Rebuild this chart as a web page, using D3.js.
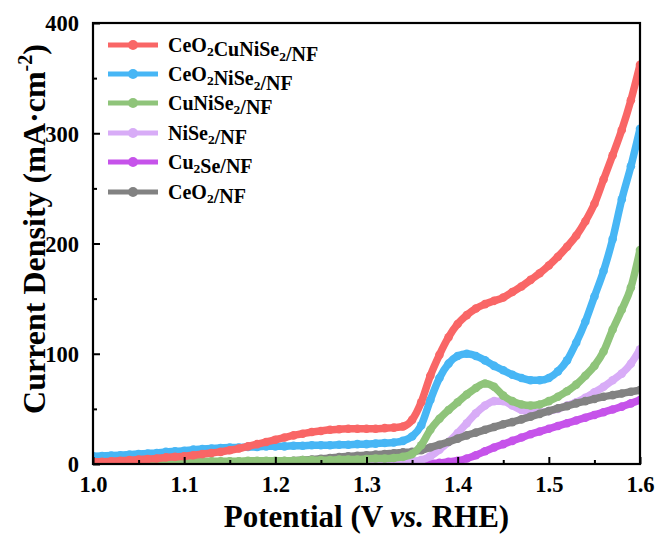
<!DOCTYPE html>
<html><head><meta charset="utf-8">
<script src="https://cdn.jsdelivr.net/npm/d3@7/dist/d3.min.js"></script>
<style>body{margin:0;background:#fff}svg{display:block}text{font-family:"Liberation Serif","Times New Roman",serif;font-weight:bold;fill:#000}</style>
</head><body><svg id="c" width="662" height="535"></svg>
<script>
const potential = d3.range(61).map(i => +(1 + i * 0.01).toFixed(2));
const xTicks = [1.0, 1.1, 1.2, 1.3, 1.4, 1.5, 1.6];
const yTicks = [0, 100, 200, 300, 400];

const red = [2,2,2.5,3,3.5,4,4.5,5,6,6.5,7,8,9,10,11,12.5,14,16,18,20,22,24,26,27.5,29,30,31,31.5,32,32,32,32,32.5,33,34,40,56,80,99,115,127,135,141,145,148,151,156,161,167,173,180,188,197,207,220,236,258,280,303,330,362];
const blue = [7,7.3,7.6,8,8.5,9,9.5,10,11,11.5,12,13,13.5,14,14.5,15,15,15.5,15.5,16,16,16,16.5,16.5,17,17,17,17.5,17.5,18,18,18.5,19,19.5,21,25,35,58,78,91,98,100,98,94,89,85,81,78,76,76,78,84,94,110,129,152,175,204,240,270,304];
const green = [2,2,2,2,2,2,2,2,2,2,2.5,2.5,2.5,2.5,2.5,2.5,2.5,3,3,3,3,3,3,3.5,3.5,3.5,3.5,4,4,4,4.5,5,5,5.5,6.5,9,17,31,41,49,56,63,69,73,70,62,57,54,53,54,57,61,66,72,80,89,102,122,140,160,194];
const lavender = [2,2,2,2,2,2,2,2,2,2,2,2,2,2,2,2,2,2,2,2,2,2,2,2,2,2,2,2,2,2,2,2,2,2,2,2.5,3.5,7,13,20,28,37,46,53,57,57,53,49,47,47,48,50,53,56,60,65,70,76,82,91,104];
const purple = [0,0,0,0,0,0,0,0,0,0,0,0,0,0,0,0,0,0,0,0,0,0,0,0,0,0,0,0,0,0,0,0,0,0,0,0,0,0.5,1,2,3,5,8,11.5,15,18,21,24,27,29.5,32,34.5,37,39.5,42,44.5,47,49.5,52,55,58];
const gray = [1,1,1,1,1,1,1.2,1.2,1.3,1.4,1.5,1.5,1.6,1.7,1.8,1.9,2,2,2.1,2.2,2.5,2.7,3,3.5,4,4.7,5.5,6.2,7,7.5,8,8.5,9,9.8,10.5,11,12.5,15,17.5,20,23,26,28.5,31,33.5,36,38,40.5,43,45.5,48,50.5,52.5,55,57,59,61,62.5,64,65.5,67];

const seriesNames = ["CeO2CuNiSe2/NF","CeO2NiSe2/NF","CuNiSe2/NF","NiSe2/NF","Cu2Se/NF","CeO2/NF"];
const seriesValues = [red, blue, green, lavender, purple, gray];
const seriesColors = ["#f96666","#47b6f5","#8fc47a","#d8acf7","#c653ea","#828282"];
const drawOrder = [4, 3, 5, 2, 1, 0];

const svg = d3.select("#c");
const L = 93, R = 640, T = 23, B = 464;
const x = d3.scaleLinear().domain([1.0, 1.6]).range([L, R]);
const y = d3.scaleLinear().domain([0, 400]).range([B, T]);

const plot = svg.append("g");
plot.append("clipPath").attr("id","clip").append("rect").attr("x",L).attr("y",T-5).attr("width",R-L).attr("height",B-T+5);
const lines = plot.append("g").attr("clip-path","url(#clip)");
const lineGen = d3.line().x((d,i)=>x(potential[i])).y(d=>y(d)).curve(d3.curveMonotoneX);

drawOrder.forEach(k => {
  const g = lines.append("g");
  g.append("path").datum(seriesValues[k]).attr("d", lineGen)
    .attr("fill","none").attr("stroke",seriesColors[k]).attr("stroke-width",7.5).attr("stroke-linejoin","round");
  g.selectAll("circle").data(seriesValues[k]).join("circle")
    .attr("cx",(d,i)=>x(potential[i])).attr("cy",d=>y(d)).attr("r",4.3).attr("fill",seriesColors[k]);
});

// axes
const fmtX = d3.format(".1f");
const xAxis = svg.append("g").attr("transform",`translate(0,${B})`)
  .call(d3.axisBottom(x).tickValues(xTicks).tickFormat(fmtX).tickSizeInner(-7).tickSizeOuter(0).tickPadding(12));
const xMinor = svg.append("g").attr("transform",`translate(0,${B})`)
  .call(d3.axisBottom(x).tickValues(d3.range(1.05,1.6,0.1)).tickFormat("").tickSizeInner(-4).tickSizeOuter(0));
const yAxis = svg.append("g").attr("transform",`translate(${L},0)`)
  .call(d3.axisLeft(y).tickValues(yTicks).tickSizeInner(-7).tickSizeOuter(0).tickPadding(14));
const yMinor = svg.append("g").attr("transform",`translate(${L},0)`)
  .call(d3.axisLeft(y).tickValues([50,150,250,350]).tickFormat("").tickSizeInner(-4).tickSizeOuter(0));
[xAxis,xMinor,yAxis,yMinor].forEach(a=>{
  a.select(".domain").remove();
  a.selectAll("line").attr("stroke","#000").attr("stroke-width",2);
  a.selectAll("text").attr("font-size",22.5).attr("font-family","Liberation Serif, Times New Roman, serif").attr("font-weight","bold").attr("fill","#000");
});
xAxis.selectAll("text").attr("dy","0.71em");
yAxis.selectAll("text").attr("dy","0.35em");

svg.append("rect").attr("x",L).attr("y",T).attr("width",R-L).attr("height",B-T)
  .attr("fill","none").attr("stroke","#000").attr("stroke-width",2.2);

// titles
const xt = svg.append("text").attr("x",(L+R)/2).attr("y",527).attr("text-anchor","middle").attr("font-size",31);
xt.append("tspan").text("Potential (V ");
xt.append("tspan").attr("font-style","italic").text("vs.");
xt.append("tspan").text(" RHE)");

const yt = svg.append("text").attr("transform","translate(45,229) rotate(-90)").attr("text-anchor","middle").attr("font-size",32);
yt.append("tspan").text("Current Density (mA·cm");
yt.append("tspan").attr("font-size",20).attr("dy",-13).text("-2");
yt.append("tspan").attr("dy",13).text(")");

// legend
const leg = svg.append("g");
const rowY = [45, 74, 103, 133, 162, 192];
seriesNames.forEach((name,k)=>{
  const yy = rowY[k];
  leg.append("line").attr("x1",108).attr("x2",158).attr("y1",yy).attr("y2",yy)
    .attr("stroke",seriesColors[k]).attr("stroke-width",5);
  leg.append("circle").attr("cx",133).attr("cy",yy).attr("r",5).attr("fill",seriesColors[k]);
  const t = leg.append("text").attr("x",168).attr("y",yy+6.5).attr("font-size",20);
  const parts = name.split(/(\d)/);
  parts.forEach(p=>{
    if(p==="") return;
    if(/\d/.test(p)){
      t.append("tspan").attr("font-size",13.5).attr("dy",4.5).text(p);
      t.append("tspan").attr("dy",-4.5).text("");
    } else {
      t.append("tspan").text(p);
    }
  });
});
</script></body></html>
